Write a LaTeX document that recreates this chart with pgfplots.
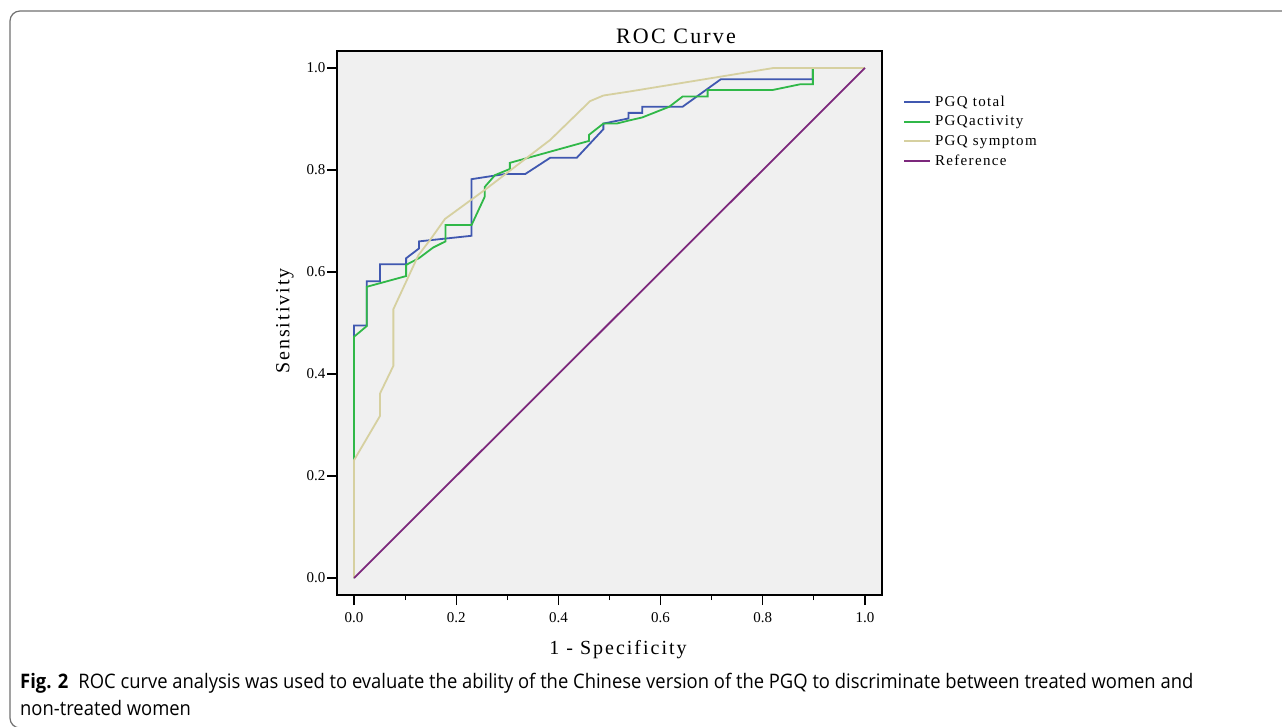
\documentclass[border=0pt]{standalone}
\usepackage{fontspec}
\setmainfont{Liberation Serif}
\newfontfamily\spaced[LetterSpace=10]{Liberation Serif}
\newfontfamily\legfont[LetterSpace=9]{Liberation Serif}
\newfontfamily\capfont[FakeStretch=0.92]{Open Sans}
\usepackage{pgfplots}
\pgfplotsset{compat=1.18}
\definecolor{bgc}{HTML}{F0F0F0}
\definecolor{cblue}{HTML}{4058B0}
\definecolor{cgreen}{HTML}{30B848}
\definecolor{cyel}{HTML}{D6D0A0}
\definecolor{cpur}{HTML}{7C287C}
\definecolor{framec}{HTML}{707070}

\begin{document}
\begin{tikzpicture}
\useasboundingbox (0,0) rectangle (1282pt,726pt);
\draw[framec, line width=1.2pt, rounded corners=10pt] (1300pt,-2pt) -- (10pt,-2pt) -- (10pt,715pt) -- (1300pt,715pt);
\begin{axis}[
  at={(337pt,131pt)}, anchor=south west,
  scale only axis, width=545pt, height=544pt,
  xmin=-0.0333, xmax=1.0333, ymin=-0.0333, ymax=1.0333,
  axis background/.style={fill=bgc},
  axis line style={line width=1.2pt},
  xtick={0,0.2,0.4,0.6,0.8,1}, minor xtick={0.1,0.3,0.5,0.7,0.9},
  ytick={0,0.2,0.4,0.6,0.8,1},
  tick pos=left, tick align=outside,
  major tick length=10pt, minor tick length=5pt,
  every tick/.style={black, line width=1.2pt},
  tick label style={font=\fontsize{15}{15}\selectfont},
  xticklabel style={yshift=-4pt},
  yticklabel style={xshift=2pt},
  /pgf/number format/fixed, /pgf/number format/fixed zerofill,
  /pgf/number format/precision=1, /pgf/number format/assume math mode=true,
  legend style={at={(1.033,0.923)}, anchor=north west, draw=none, fill=none,
    font=\legfont\fontsize{15}{15}\selectfont, row sep=6pt, nodes={inner sep=1pt}},
  legend cell align=left,
  legend image code/.code={\draw[#1] (0pt,0pt) -- (26pt,0pt); \path (29pt,0pt);},
  every axis plot/.append style={line width=1.8pt, no markers},
]
% PGQ total
\addplot[cblue] coordinates {
  (0,0) (0,0.495) (0.025,0.495) (0.025,0.582) (0.051,0.582) (0.051,0.615)
  (0.102,0.615) (0.102,0.627) (0.127,0.646) (0.127,0.660) (0.230,0.671)
  (0.230,0.782) (0.295,0.792) (0.335,0.792) (0.384,0.824) (0.436,0.824)
  (0.488,0.880) (0.488,0.891) (0.537,0.901) (0.537,0.912) (0.564,0.912)
  (0.564,0.924) (0.643,0.924) (0.718,0.978) (0.898,0.978) (0.898,1) (1,1)
};
\addlegendentry{PGQ total}
% PGQ activity
\addplot[cgreen] coordinates {
  (0,0) (0,0.473) (0.025,0.494) (0.025,0.571) (0.102,0.592) (0.102,0.614)
  (0.127,0.627) (0.155,0.648) (0.179,0.660) (0.179,0.692) (0.230,0.692)
  (0.256,0.748) (0.256,0.767) (0.276,0.790) (0.305,0.802) (0.305,0.814)
  (0.460,0.857) (0.460,0.869) (0.488,0.891) (0.514,0.891) (0.538,0.897)
  (0.564,0.903) (0.617,0.924) (0.643,0.944) (0.692,0.944) (0.692,0.957)
  (0.820,0.957) (0.873,0.968) (0.898,0.968) (0.898,1) (1,1)
};
\addlegendentry{PGQactivity}
% PGQ symptom
\addplot[cyel] coordinates {
  (0,0) (0,0.231) (0.051,0.318) (0.051,0.362) (0.077,0.416) (0.077,0.527)
  (0.126,0.633) (0.149,0.663) (0.178,0.704) (0.256,0.761) (0.384,0.859)
  (0.462,0.935) (0.488,0.946) (0.540,0.954) (0.821,1) (1,1)
};
\addlegendentry{PGQ symptom}
% reference line
\addplot[cpur] coordinates {(0,0) (1,1)};
\addlegendentry{Reference}
\end{axis}
\node[font=\spaced\fontsize{22}{22}\selectfont] at (676pt,690pt) {ROC Curve};
\node[font=\spaced\fontsize{20}{20}\selectfont] at (618pt,76pt) {1 - Specificity};
\node[rotate=90, font=\spaced\fontsize{20}{20}\selectfont] at (285pt,405pt) {Sensitivity};
\node[anchor=base west, inner sep=0pt, font=\capfont\fontsize{20}{20}\selectfont] at (20pt,38pt)
  {\textbf{Fig. 2}\hspace{0.5em}ROC curve analysis was used to evaluate the ability of the Chinese version of the PGQ to discriminate between treated women and};
\node[anchor=base west, inner sep=0pt, font=\capfont\fontsize{20}{20}\selectfont] at (20pt,11pt)
  {non-treated women};
\end{tikzpicture}
\end{document}
